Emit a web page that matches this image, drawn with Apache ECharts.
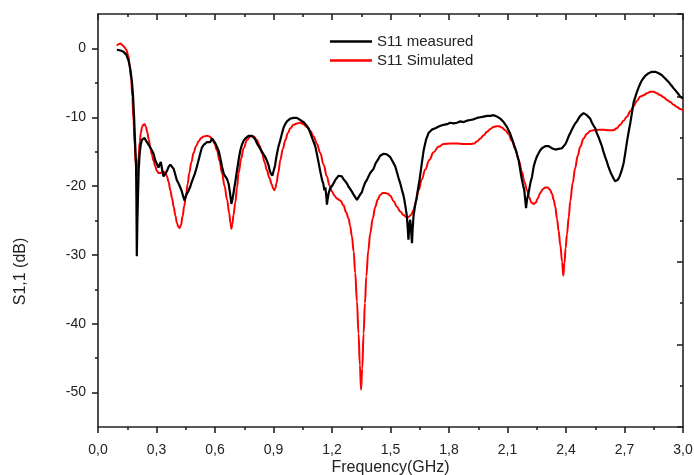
<!DOCTYPE html>
<html>
<head>
<meta charset="utf-8">
<script src="https://cdn.jsdelivr.net/npm/echarts@6/dist/echarts.min.js"></script>
<style>
html,body{margin:0;padding:0;background:#fff;}
#chart{width:694px;height:475px;}
</style>
</head>
<body>
<div id="chart"></div>
<script>
// ---- data ----
const seriesNames = ['S11 measured', 'S11 Simulated'];
const xTickValues = [0, 0.3, 0.6, 0.9, 1.2, 1.5, 1.8, 2.1, 2.4, 2.7, 3.0];
const yMajorTicks = [-50, -40, -30, -20, -10, 0];
const yMinorTicks = [-45, -35, -25, -15, -5];

const measuredFreq = [0.097,0.115,0.131,0.145,0.157,0.166,0.174,0.18,0.186,0.19,0.195,0.197,0.199,0.202,0.205,0.209,0.213,0.219,0.225,0.232,0.239,0.246,0.253,0.26,0.268,0.276,0.285,0.293,0.302,0.31,0.316,0.322,0.329,0.336,0.345,0.354,0.362,0.371,0.38,0.388,0.397,0.405,0.413,0.422,0.428,0.434,0.44,0.444,0.45,0.456,0.464,0.473,0.481,0.49,0.498,0.507,0.516,0.525,0.533,0.542,0.55,0.559,0.567,0.576,0.585,0.593,0.602,0.61,0.619,0.627,0.636,0.645,0.653,0.662,0.67,0.677,0.684,0.689,0.695,0.704,0.713,0.721,0.73,0.738,0.747,0.755,0.764,0.772,0.781,0.79,0.798,0.806,0.815,0.824,0.832,0.841,0.849,0.858,0.866,0.875,0.881,0.887,0.894,0.901,0.908,0.915,0.925,0.935,0.944,0.952,0.96,0.969,0.977,0.986,0.995,1.003,1.012,1.02,1.029,1.037,1.046,1.054,1.064,1.072,1.081,1.089,1.098,1.106,1.115,1.123,1.132,1.14,1.149,1.155,1.161,1.166,1.171,1.174,1.178,1.183,1.191,1.2,1.208,1.217,1.225,1.234,1.242,1.251,1.259,1.268,1.276,1.285,1.293,1.302,1.31,1.319,1.328,1.336,1.345,1.353,1.362,1.37,1.379,1.387,1.396,1.404,1.413,1.422,1.43,1.439,1.447,1.456,1.465,1.473,1.481,1.49,1.499,1.507,1.516,1.525,1.533,1.541,1.55,1.558,1.565,1.571,1.578,1.584,1.588,1.592,1.597,1.601,1.606,1.61,1.614,1.618,1.625,1.632,1.64,1.649,1.66,1.67,1.682,1.695,1.712,1.73,1.75,1.772,1.79,1.806,1.824,1.841,1.858,1.875,1.892,1.909,1.926,1.944,1.961,1.978,1.995,2.012,2.029,2.046,2.063,2.08,2.097,2.114,2.131,2.145,2.157,2.166,2.174,2.18,2.186,2.191,2.195,2.2,2.208,2.217,2.226,2.234,2.243,2.251,2.26,2.268,2.277,2.285,2.294,2.303,2.311,2.32,2.328,2.337,2.345,2.354,2.362,2.371,2.379,2.388,2.397,2.405,2.413,2.422,2.43,2.439,2.447,2.456,2.464,2.473,2.481,2.49,2.498,2.507,2.515,2.524,2.533,2.541,2.55,2.558,2.567,2.575,2.584,2.592,2.601,2.61,2.618,2.627,2.635,2.644,2.652,2.658,2.665,2.675,2.687,2.696,2.705,2.713,2.722,2.73,2.739,2.747,2.756,2.764,2.772,2.781,2.79,2.798,2.806,2.815,2.824,2.832,2.84,2.849,2.858,2.866,2.875,2.884,2.892,2.901,2.91,2.918,2.927,2.935,2.944,2.952,2.961,2.97,2.978,2.986,2.993,3.0];
const measuredS11 = [-0.2,-0.3,-0.5,-0.9,-1.8,-3.1,-4.8,-7,-10.5,-13.5,-16.7,-22,-30.2,-25,-21.5,-17.5,-15.5,-14,-13.3,-13.4,-13.0,-13.4,-13.6,-14,-14.4,-14.8,-15.3,-16.2,-16.8,-17.3,-16.9,-16.5,-17.6,-18.6,-18.2,-17.8,-17.2,-16.9,-17.1,-17.5,-18.4,-19.2,-19.6,-20.2,-20.6,-21.2,-21.8,-22.1,-21.5,-21.1,-20.7,-20.1,-19.4,-18.7,-18.1,-17.2,-16.2,-15.2,-14.4,-14,-13.8,-13.6,-13.5,-13.6,-13.1,-13.3,-13.8,-14.3,-14.9,-15.9,-17.2,-18.2,-18.6,-19.0,-19.7,-21.0,-22.6,-22.0,-21.0,-19.4,-17.7,-16.2,-14.8,-14.0,-13.4,-13.1,-12.9,-12.7,-12.8,-12.7,-12.8,-13.2,-13.8,-14.2,-14.6,-15.0,-15.4,-15.8,-16.3,-17.0,-17.8,-18.2,-18.5,-18.3,-17.0,-15.7,-14.3,-13.3,-12.3,-11.5,-11.0,-10.6,-10.4,-10.2,-10.0,-10.1,-10.2,-10.1,-10.3,-10.4,-10.5,-10.7,-10.9,-11.3,-11.7,-12.3,-13.0,-13.6,-14.3,-15.4,-16.7,-17.9,-19.1,-19.6,-20.6,-20.2,-21.5,-22.7,-21.8,-21.0,-20.3,-20.0,-19.6,-19.1,-18.9,-18.5,-18.6,-18.6,-19.0,-19.3,-19.6,-20.1,-20.4,-20.8,-21.2,-21.6,-22.0,-21.8,-21.2,-20.9,-20.1,-19.5,-19.1,-18.6,-18.1,-17.9,-17.5,-16.8,-16.4,-16.0,-15.6,-15.4,-15.3,-15.2,-15.4,-15.5,-15.8,-16.2,-16.7,-17.2,-18.0,-18.8,-19.6,-20.5,-21.2,-22.0,-23.2,-24.4,-26.0,-27.8,-25.5,-24.9,-26.5,-28.3,-26.0,-24.4,-23.0,-22.0,-20.6,-19.1,-16.8,-14.8,-13.3,-12.3,-11.8,-11.6,-11.3,-11.1,-11.0,-10.8,-10.9,-10.8,-10.6,-10.7,-10.5,-10.4,-10.3,-10.1,-10.0,-9.9,-9.8,-9.8,-9.7,-9.9,-10.2,-10.7,-11.4,-12.4,-13.8,-15.0,-16.2,-17.8,-19.1,-19.9,-20.6,-22.0,-23.2,-22.0,-21.0,-19.6,-18.6,-17.2,-16.3,-15.7,-15.2,-14.8,-14.5,-14.3,-14.2,-14.3,-14.2,-14.3,-14.5,-14.6,-14.7,-14.8,-14.6,-14.4,-14.5,-14.3,-13.9,-13.4,-12.8,-12.3,-11.8,-11.3,-10.9,-10.6,-10.2,-9.8,-9.6,-9.4,-9.5,-9.7,-9.9,-10.2,-10.8,-11.2,-11.6,-12.3,-12.9,-13.5,-14.2,-15.0,-15.8,-16.5,-17.2,-17.9,-18.4,-18.9,-19.3,-19.4,-19.1,-18.6,-17.6,-16.6,-15.0,-13.5,-12.0,-10.8,-9.2,-7.8,-7.0,-6.3,-5.7,-5.1,-4.6,-4.3,-4.0,-3.8,-3.6,-3.5,-3.4,-3.4,-3.4,-3.5,-3.6,-3.7,-3.9,-4.1,-4.4,-4.6,-4.9,-5.2,-5.5,-5.8,-6.1,-6.4,-6.7,-7.0,-7.1,-7.3];

const simulatedFreq = [0.097,0.105,0.115,0.125,0.135,0.145,0.155,0.163,0.17,0.176,0.182,0.188,0.193,0.198,0.203,0.208,0.214,0.22,0.226,0.232,0.239,0.246,0.253,0.26,0.268,0.276,0.285,0.293,0.302,0.311,0.32,0.329,0.337,0.346,0.354,0.362,0.371,0.38,0.388,0.397,0.405,0.412,0.418,0.425,0.434,0.442,0.451,0.46,0.468,0.479,0.49,0.503,0.516,0.529,0.542,0.559,0.572,0.585,0.597,0.61,0.623,0.636,0.649,0.662,0.673,0.679,0.684,0.689,0.695,0.704,0.713,0.721,0.734,0.747,0.764,0.781,0.798,0.815,0.828,0.841,0.854,0.866,0.879,0.892,0.898,0.904,0.91,0.915,0.925,0.935,0.948,0.961,0.974,0.986,1.003,1.02,1.037,1.054,1.07,1.089,1.106,1.123,1.14,1.157,1.174,1.187,1.2,1.213,1.225,1.242,1.259,1.272,1.285,1.293,1.302,1.311,1.319,1.328,1.336,1.343,1.349,1.355,1.362,1.369,1.376,1.386,1.396,1.409,1.422,1.435,1.447,1.46,1.473,1.486,1.499,1.516,1.533,1.55,1.567,1.58,1.592,1.605,1.618,1.631,1.644,1.661,1.678,1.699,1.721,1.746,1.772,1.806,1.841,1.875,1.909,1.93,1.944,1.961,1.978,1.995,2.012,2.029,2.046,2.058,2.071,2.088,2.105,2.122,2.14,2.157,2.174,2.187,2.2,2.211,2.222,2.234,2.245,2.255,2.268,2.28,2.294,2.306,2.317,2.328,2.337,2.345,2.354,2.362,2.371,2.38,2.386,2.392,2.398,2.405,2.414,2.422,2.434,2.447,2.46,2.473,2.49,2.507,2.524,2.541,2.567,2.592,2.618,2.643,2.66,2.678,2.695,2.713,2.73,2.747,2.764,2.781,2.798,2.815,2.832,2.849,2.866,2.884,2.901,2.918,2.935,2.952,2.969,2.986,3.0];
const simulatedS11 = [0.4,0.6,0.7,0.5,0.2,-0.2,-1.0,-2.5,-4.5,-7.0,-10.5,-14.0,-16.8,-18.6,-17.8,-15.8,-13.6,-12.2,-11.4,-11.1,-11.0,-11.4,-12.2,-13.2,-14.4,-15.4,-16.3,-17.1,-17.8,-18.1,-18.1,-18.0,-17.9,-18.1,-18.6,-19.4,-20.6,-21.8,-23.0,-24.3,-25.4,-25.9,-26.1,-25.7,-24.4,-22.9,-21.4,-19.7,-18.1,-16.5,-15.2,-14.2,-13.5,-13.0,-12.8,-12.7,-12.8,-13.1,-13.8,-14.8,-16.3,-18.1,-20.0,-22.0,-24.0,-25.3,-26.2,-25.5,-24.2,-22.4,-20.2,-18.1,-16.0,-14.5,-13.3,-12.8,-12.8,-13.3,-14.1,-15.2,-16.5,-17.7,-18.8,-19.8,-20.3,-20.6,-20.3,-19.6,-18.0,-16.2,-14.6,-13.3,-12.3,-11.6,-11.1,-10.9,-10.8,-11.0,-11.4,-12.0,-12.8,-13.9,-15.2,-16.9,-18.6,-19.9,-20.8,-21.4,-21.8,-22.1,-22.8,-23.8,-24.7,-25.8,-27.3,-29.5,-32.6,-36.8,-41.4,-46.0,-49.6,-46.5,-41.4,-37.0,-33.1,-29.4,-26.9,-24.7,-23.0,-21.9,-21.3,-21.0,-21.0,-21.1,-21.4,-22.2,-23.0,-23.7,-24.2,-24.5,-24.5,-24.2,-23.5,-22.2,-20.6,-19.0,-17.6,-16.2,-15.1,-14.3,-13.9,-13.8,-13.8,-13.9,-13.9,-13.8,-13.5,-13.1,-12.6,-12.1,-11.7,-11.4,-11.3,-11.3,-11.5,-11.9,-12.4,-13.4,-14.6,-16.2,-17.9,-19.4,-20.6,-21.6,-22.4,-22.6,-22.4,-21.8,-21.0,-20.5,-20.2,-20.2,-20.5,-21.1,-22.0,-23.0,-24.8,-26.5,-28.6,-31.0,-33.0,-31.2,-29.0,-27.0,-24.5,-22.2,-19.6,-17.4,-15.6,-14.3,-13.1,-12.4,-12.0,-11.9,-11.8,-11.8,-11.9,-11.9,-11.6,-11.1,-10.5,-9.9,-9.1,-8.4,-7.6,-7.0,-6.8,-6.5,-6.3,-6.3,-6.5,-6.8,-7.1,-7.5,-7.8,-8.2,-8.5,-8.8,-9.0];

// ---- build chart ----
const pair = (xs, ys) => xs.map((x, i) => [x, ys[i]]);
const FONT = '"Liberation Sans", Arial, sans-serif';
const AX = { color: '#222', width: 1.6 };
const gridRect = { left: 98, right: 11, top: 14, bottom: 48, outerBoundsMode: 'none', containLabel: false };

const chart = echarts.init(document.getElementById('chart'), null, { renderer: 'canvas' });
chart.setOption({
  animation: false,
  backgroundColor: '#fff',
  grid: [Object.assign({}, gridRect), Object.assign({}, gridRect)],
  legend: {
    data: seriesNames.map(n => ({ name: n, icon: 'rect' })),
    orient: 'vertical',
    left: 330,
    top: 34,
    padding: 0,
    itemWidth: 42,
    itemHeight: 2.5,
    itemGap: 4,
    textStyle: { fontSize: 15, fontFamily: FONT, color: '#222', padding: [0, 0, 0, 0] }
  },
  xAxis: [
    {
      gridIndex: 0, type: 'value', position: 'bottom',
      min: 0, max: 3, interval: 0.3,
      axisLine: { onZero: false, lineStyle: AX },
      axisTick: { length: 6, lineStyle: AX },
      minorTick: { show: true, splitNumber: 2, length: 3, lineStyle: AX },
      splitLine: { show: false },
      axisLabel: {
        margin: 16, fontSize: 14, fontFamily: FONT, color: '#222',
        formatter: v => v.toFixed(1).replace('.', ',')
      },
      name: 'Frequency(GHz)', nameLocation: 'middle', nameGap: 33, nameMoveOverlap: false,
      nameTextStyle: { fontSize: 16, fontFamily: FONT, color: '#222' }
    },
    {
      gridIndex: 0, type: 'value', position: 'top',
      min: 0, max: 3, interval: 0.3,
      axisLine: { onZero: false, lineStyle: AX },
      axisTick: { inside: true, length: 6, lineStyle: AX },
      minorTick: { show: true, splitNumber: 2, length: 3, lineStyle: AX },
      splitLine: { show: false },
      axisLabel: { show: false }
    },
    {
      gridIndex: 1, type: 'value', position: 'bottom',
      min: 0, max: 3, show: false,
      axisLine: { onZero: false }
    }
  ],
  yAxis: [
    {
      gridIndex: 0, type: 'value', position: 'left',
      min: -55, max: 5,
      axisLine: { show: true, onZero: false, lineStyle: AX },
      axisTick: { show: true, length: 6, customValues: yMajorTicks, lineStyle: AX },
      splitLine: { show: false },
      axisLabel: {
        margin: 12, fontSize: 14, fontFamily: FONT, color: '#222',
        customValues: yMajorTicks
      },
      name: 'S1,1 (dB)', nameLocation: 'middle', nameGap: 69, nameRotate: 90, nameMoveOverlap: false,
      nameTextStyle: { fontSize: 16, fontFamily: FONT, color: '#222', padding: [0, 102, 0, 0] }
    },
    {
      gridIndex: 0, type: 'value', position: 'right',
      min: 0, max: 5, interval: 1,
      axisLine: { show: true, onZero: false, lineStyle: AX },
      axisTick: { show: true, inside: true, length: 6, lineStyle: AX },
      minorTick: { show: true, splitNumber: 2, length: 3, lineStyle: AX },
      splitLine: { show: false },
      axisLabel: { show: false }
    },
    {
      gridIndex: 1, type: 'value', position: 'left',
      min: -55, max: 5,
      axisLine: { show: false, onZero: false },
      axisTick: { show: true, length: 3, customValues: yMinorTicks, lineStyle: AX },
      splitLine: { show: false },
      axisLabel: { show: false }
    }
  ],
  series: [
    {
      name: seriesNames[0], type: 'line', xAxisIndex: 0, yAxisIndex: 0,
      data: pair(measuredFreq, measuredS11),
      showSymbol: false, symbol: 'none',
      lineStyle: { color: '#000', width: 2.2 },
      itemStyle: { color: '#000' },
      z: 3
    },
    {
      name: seriesNames[1], type: 'line', xAxisIndex: 0, yAxisIndex: 0,
      data: pair(simulatedFreq, simulatedS11),
      showSymbol: false, symbol: 'none',
      smooth: 0.4, smoothMonotone: 'x',
      lineStyle: { color: '#ff0000', width: 2 },
      itemStyle: { color: '#ff0000' },
      z: 2
    }
  ]
});
</script>
</body>
</html>
